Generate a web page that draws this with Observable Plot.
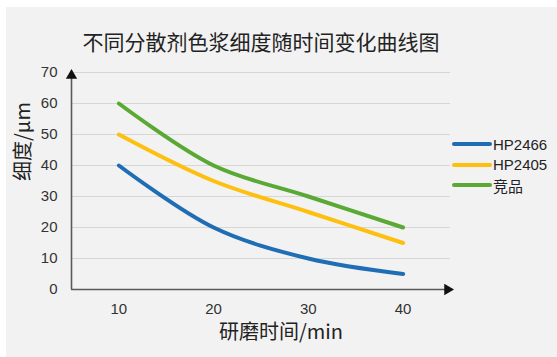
<!DOCTYPE html>
<html>
<head>
<meta charset="utf-8">
<script src="https://cdn.jsdelivr.net/npm/d3@7"></script>
<script src="https://cdn.jsdelivr.net/npm/@observablehq/plot@0.6"></script>
<style>
  html, body { margin: 0; padding: 0; background: #ffffff; }
  #wrap { position: relative; width: 557px; height: 357px; overflow: hidden; }
  #bg { position: absolute; left: 6px; top: 7px; right: 0; bottom: 0; background: #f2f2f2; }
  #chart { position: absolute; left: 0; top: 0; }
  #legend { position: absolute; left: 452px; top: 134px; font-family: "Liberation Sans", "Noto Sans CJK SC", sans-serif; font-size: 15px; color: #222; }
  .item { display: flex; align-items: center; height: 20.5px; }
  .sw { width: 40px; height: 4px; border-radius: 2px; margin-right: 1px; }
</style>
</head>
<body>
<div id="wrap">
  <div id="bg"></div>
  <div id="chart"></div>
  <div id="legend"></div>
</div>
<script>
const title = "不同分散剂色浆细度随时间变化曲线图";
const xLabel = "研磨时间/min";
const yLabel = "细度/μm";
const times = [10, 20, 30, 40];
const seriesNames = ["HP2466", "HP2405", "竞品"];
const hp2466 = [40, 20, 10, 5];
const hp2405 = [50, 35, 25, 15];
const jingpin = [60, 40, 30, 20];
const colors = ["#1f6db5", "#fdc010", "#5aa935"];
const xTicks = [10, 20, 30, 40];
const yTicks = [0, 10, 20, 30, 40, 50, 60, 70];
const xDomain = [5, 45];
const yDomain = [0, 70];

const valuesBySeries = [hp2466, hp2405, jingpin];
const rows = [];
seriesNames.forEach((s, i) => times.forEach((t, j) => rows.push({series: s, time: t, value: valuesBySeries[i][j]})));

const font = "'Liberation Sans', 'Noto Sans CJK SC', sans-serif";
const cjk = "'Noto Sans CJK SC', sans-serif";

const chart = Plot.plot({
  width: 557,
  height: 357,
  marginLeft: 71,
  marginRight: 107,
  marginTop: 72,
  marginBottom: 68,
  style: { background: "transparent", fontFamily: font, fontSize: "15px", color: "#333" },
  x: { domain: xDomain, label: null },
  y: { domain: yDomain, label: null },
  color: { domain: seriesNames, range: colors },
  marks: [
    Plot.gridY(yTicks, { stroke: "#d6d6d6", strokeOpacity: 1, strokeWidth: 1 }),
    Plot.axisX(xTicks, { tickSize: 0, tickPadding: 14, fontSize: 15, fill: "#333", label: null }),
    Plot.axisY(yTicks, { tickSize: 0, tickPadding: 14, fontSize: 15, fill: "#333", label: null }),
    Plot.ruleY([yDomain[0]], { stroke: "#5a5a5a", strokeWidth: 1.6 }),
    Plot.ruleX([xDomain[0]], { stroke: "#5a5a5a", strokeWidth: 1.6 }),
    Plot.dot([{x: xDomain[1], y: yDomain[0]}], { x: "x", y: "y", symbol: "triangle", r: 4.2, fill: "#111", stroke: null, rotate: 90, dx: -3 }),
    Plot.dot([{x: xDomain[0], y: yDomain[1]}], { x: "x", y: "y", symbol: "triangle", r: 4.2, fill: "#111", stroke: null, dy: 3 }),
    Plot.line(rows, { x: "time", y: "value", z: "series", stroke: "series", strokeWidth: 4, curve: "catmull-rom", strokeLinecap: "round" }),
    Plot.text([title], { frameAnchor: "top", dy: -37, fontSize: 21, fill: "#222", fontFamily: cjk }),
    Plot.text([xLabel], { frameAnchor: "bottom", dy: 49, dx: 20, fontSize: 20, fill: "#222", fontFamily: cjk }),
    Plot.text([yLabel], { frameAnchor: "left", dx: -48, rotate: -90, fontSize: 20, fill: "#222", fontFamily: cjk })
  ]
});
document.getElementById("chart").appendChild(chart);

const legend = document.getElementById("legend");
seriesNames.forEach((s, i) => {
  const item = document.createElement("div");
  item.className = "item";
  const sw = document.createElement("span");
  sw.className = "sw";
  sw.style.background = colors[i];
  const label = document.createElement("span");
  label.textContent = s;
  item.appendChild(sw);
  item.appendChild(label);
  legend.appendChild(item);
});
</script>
</body>
</html>
